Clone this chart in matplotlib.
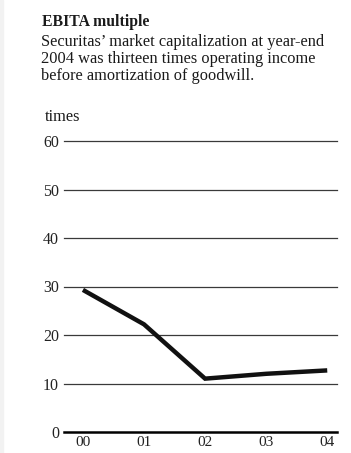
import matplotlib.pyplot as plt
from matplotlib.patches import Rectangle

# data
years = ["00", "01", "02", "03", "04"]
ebita_multiple = [29.3, 22.2, 11.0, 12.0, 12.7]
yticks = [0, 10, 20, 30, 40, 50, 60]

title = "EBITA multiple"
subtitle = ["Securitas\u2019 market capitalization at year-end",
            "2004 was thirteen times operating income",
            "before amortization of goodwill."]

W, H = 351, 453
fig = plt.figure(figsize=(W / 100, H / 100), dpi=100)
plt.rcParams['font.family'] = ['Liberation Serif', 'DejaVu Serif']

# faint card edge on the left
fig.patches.append(Rectangle((0, 0), 3 / W, 1, transform=fig.transFigure,
                             color="#f2f2f2", zorder=0))

# header text
fig.text(42 / W, 1 - 26 / H, title, fontsize=11.3, fontweight="bold",
         color="#1a1a1a", va="baseline")
for i, line in enumerate(subtitle):
    fig.text(41 / W, 1 - (46 + 17 * i) / H, line, fontsize=11.8,
             color="#1a1a1a", va="baseline")
fig.text(45 / W, 1 - 121 / H, "times", fontsize=11.8, color="#1a1a1a",
         va="baseline")

# plot area
x0, x1 = 64, 337
y0, y1 = 432, 141
ax = fig.add_axes([x0 / W, 1 - y0 / H, (x1 - x0) / W, (y0 - y1) / H])
xs = list(range(len(years)))
ax.set_xlim(-0.31, 4.16)
ax.set_ylim(0, 60)

for v in yticks[1:]:
    ax.axhline(v, color="#3a3a3a", lw=0.9, zorder=1, clip_on=False)
ax.axhline(0, color="black", lw=1.8, zorder=2, clip_on=False)

ax.plot(xs, ebita_multiple, color="#111111", lw=3.2, solid_joinstyle="miter",
        solid_capstyle="butt", zorder=3, clip_on=False)

for s in ax.spines.values():
    s.set_visible(False)
ax.set_yticks(yticks)
ax.set_xticks(xs)
ax.set_xticklabels(years)
ax.tick_params(axis="both", length=0, labelsize=11.5, labelcolor="#222222")
ax.tick_params(axis="y", pad=3.6)
ax.tick_params(axis="x", pad=3.0, labelsize=11)
ax.patch.set_visible(False)

fig.savefig("out.png", dpi=100)
